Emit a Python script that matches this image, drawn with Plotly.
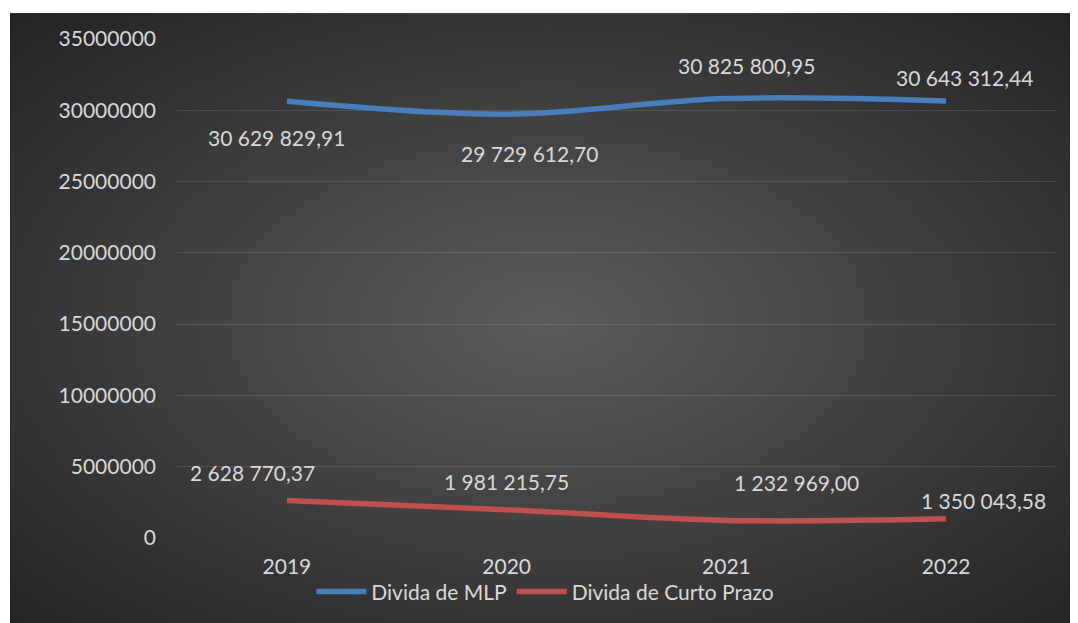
import base64
import plotly.graph_objects as go

anos = ["2019", "2020", "2021", "2022"]
divida_mlp = [30629829.91, 29729612.70, 30825800.95, 30643312.44]
divida_curto = [2628770.37, 1981215.75, 1232969.00, 1350043.58]
y_ticks = [0, 5000000, 10000000, 15000000, 20000000, 25000000, 30000000, 35000000]

TXT = "#d9d9d9"
FONT = "Lato"
AZUL = "#4a7ebb"
VERMELHO = "#c0504d"

# label offsets (px) copied from the original chart, Excel places them by hand
off_mlp = [(-10, -36), (23, -39), (20, 33), (18, 24)]
off_curto = [(-34, 28), (0, 28), (70, 38), (37, 18)]


def fmt(v):
    return f"{v:,.2f}".replace(",", " ").replace(".", ",")


svg = ("<svg xmlns='http://www.w3.org/2000/svg' width='1076' height='618' viewBox='0 0 1076 618' "
       "preserveAspectRatio='none'><defs><radialGradient id='g' cx='50%' cy='50%' r='72%'>"
       "<stop offset='0' stop-color='#5b5b5b'/><stop offset='1' stop-color='#222222'/>"
       "</radialGradient></defs><rect width='1076' height='618' fill='url(#g)'/></svg>")
bg_src = "data:image/svg+xml;base64," + base64.b64encode(svg.encode()).decode()

fig = go.Figure()
fig.add_trace(go.Scatter(x=anos, y=divida_mlp, name="Divida de MLP", mode="lines",
                         line=dict(color=AZUL, width=5.5, shape="spline", smoothing=1)))
fig.add_trace(go.Scatter(x=anos, y=divida_curto, name="Divida de Curto Prazo", mode="lines",
                         line=dict(color=VERMELHO, width=5.5, shape="spline", smoothing=1)))

for serie, offs in ((divida_mlp, off_mlp), (divida_curto, off_curto)):
    for i, (v, (dx, dy)) in enumerate(zip(serie, offs)):
        fig.add_annotation(x=i, y=v, xref="x", yref="y", text=fmt(v), showarrow=False,
                           xshift=dx, yshift=dy,
                           font=dict(family=FONT, size=21, color=TXT))

fig.update_layout(
    width=1078, height=623,
    paper_bgcolor="white", plot_bgcolor="rgba(0,0,0,0)",
    margin=dict(l=169, r=30, t=31, b=93),
    font=dict(family=FONT, size=21, color=TXT),
    images=[dict(source=bg_src, xref="paper", yref="paper", x=-0.19, y=1.052,
                 sizex=1.224, sizey=1.238, sizing="stretch", xanchor="left", yanchor="top",
                 layer="below")],
    xaxis=dict(type="category", range=[-0.5, 3.5], showgrid=False, showline=False, zeroline=False,
               ticklabelstandoff=14, tickfont=dict(size=21, color=TXT)),
    yaxis=dict(range=[0, 35000000], tickvals=y_ticks, tickformat="d", showgrid=True,
               gridcolor="rgba(255,255,255,0.11)", gridwidth=1.2, zeroline=False, showline=False,
               ticklabelstandoff=20, tickfont=dict(size=21, color=TXT)),
    legend=dict(orientation="h", x=0.419, xanchor="center", y=-0.108, yanchor="middle",
                bgcolor="rgba(0,0,0,0)", font=dict(size=21, color=TXT), itemwidth=50,
                tracegroupgap=0),
    showlegend=True,
)

fig.write_html("out.html")
